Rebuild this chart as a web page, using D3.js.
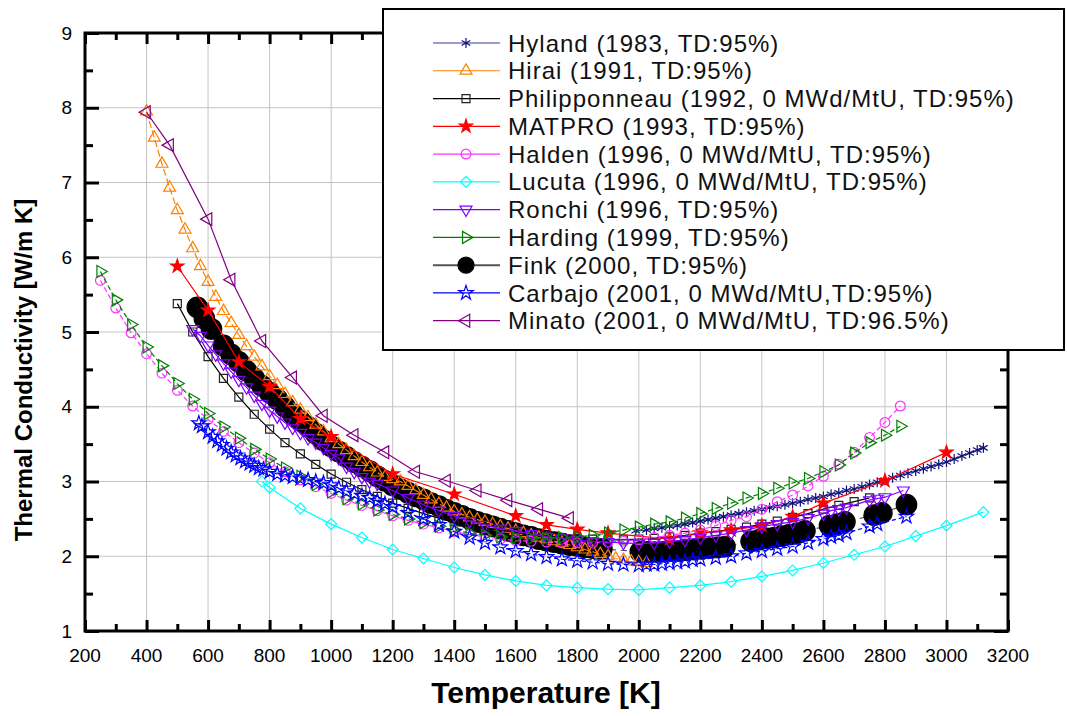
<!DOCTYPE html>
<html>
<head>
<meta charset="utf-8">
<script src="https://cdn.jsdelivr.net/npm/d3@7"></script>
<style>
  body { margin: 0; background: #fff; }
  text { font-family: "Liberation Sans", Arial, sans-serif; }
</style>
</head>
<body>
<div id="chart"></div>
<script>
// ---- data (temperature K, conductivity W/m K) ----
const xTicks = [200, 400, 600, 800, 1000, 1200, 1400, 1600, 1800, 2000, 2200, 2400, 2600, 2800, 3000, 3200];
const yTicks = [1, 2, 3, 4, 5, 6, 7, 8, 9];

const seriesNames = [
  "Hyland (1983, TD:95%)",
  "Hirai (1991, TD:95%)",
  "Philipponneau (1992, 0 MWd/MtU, TD:95%)",
  "MATPRO (1993, TD:95%)",
  "Halden (1996, 0 MWd/MtU, TD:95%)",
  "Lucuta (1996, 0 MWd/MtU, TD:95%)",
  "Ronchi (1996, TD:95%)",
  "Harding (1999, TD:95%)",
  "Fink (2000, TD:95%)",
  "Carbajo (2001, 0 MWd/MtU,TD:95%)",
  "Minato (2001, 0 MWd/MtU, TD:96.5%)"
];

const hyland = [[1990,2.34],[2025,2.35],[2050,2.37],[2075,2.38],[2100,2.4],[2125,2.41],[2150,2.43],[2175,2.45],
  [2200,2.47],[2225,2.49],[2250,2.51],[2275,2.53],[2300,2.55],[2325,2.57],[2350,2.59],[2375,2.61],[2400,2.63],
  [2425,2.65],[2450,2.67],[2475,2.69],[2500,2.71],[2525,2.73],[2550,2.76],[2575,2.78],[2600,2.8],[2625,2.83],
  [2650,2.85],[2675,2.88],[2700,2.9],[2725,2.93],[2750,2.96],[2775,2.99],[2800,3.02],[2825,3.05],[2850,3.08],
  [2875,3.11],[2900,3.14],[2925,3.17],[2950,3.2],[2975,3.23],[3000,3.26],[3025,3.3],[3050,3.34],[3075,3.38],
  [3100,3.42],[3120,3.45]];

const hirai = [[400,7.95],[425,7.6],[450,7.25],[475,6.93],[500,6.63],[525,6.37],[550,6.12],[575,5.88],[600,5.67],
  [625,5.47],[650,5.28],[675,5.12],[700,4.96],[725,4.81],[750,4.67],[775,4.54],[800,4.41],[825,4.29],[850,4.17],
  [875,4.06],[900,3.96],[925,3.86],[950,3.76],[975,3.67],[1000,3.58],[1025,3.5],[1050,3.42],[1075,3.34],[1100,3.26],
  [1125,3.19],[1150,3.12],[1175,3.06],[1200,3.03],[1225,3.0],[1250,2.94],[1275,2.88],[1300,2.82],[1325,2.76],
  [1350,2.7],[1375,2.65],[1400,2.6],[1425,2.56],[1450,2.52],[1475,2.49],[1500,2.46],[1525,2.43],[1550,2.4],
  [1575,2.37],[1600,2.34],[1625,2.31],[1650,2.28],[1675,2.25],[1700,2.23],[1725,2.2],[1750,2.18],[1775,2.15],
  [1800,2.12],[1825,2.09],[1850,2.06],[1875,2.03],[1900,2.0],[1925,1.97],[1950,1.95],[1975,1.93],[2000,1.92],[2025,1.91]];

const philipponneau = [[500,5.38],[550,5.0],[600,4.67],[650,4.38],[700,4.13],[750,3.9],[800,3.7],[850,3.52],
  [900,3.37],[950,3.23],[1000,3.1],[1050,2.99],[1100,2.89],[1150,2.8],[1200,2.71],[1250,2.64],[1300,2.57],
  [1350,2.51],[1400,2.46],[1450,2.42],[1500,2.38],[1550,2.35],[1600,2.32],[1650,2.29],[1700,2.27],[1750,2.25],
  [1800,2.24],[1850,2.23],[1900,2.22],[1950,2.22],[2000,2.23],[2050,2.24],[2100,2.26],[2150,2.28],[2200,2.31],
  [2250,2.33],[2300,2.36],[2350,2.39],[2400,2.43],[2450,2.47],[2500,2.52],[2550,2.57],[2600,2.63],[2650,2.68],
  [2700,2.73],[2750,2.78]];

const matpro = [[500,5.88],[600,5.29],[700,4.6],[800,4.27],[900,3.84],[1000,3.6],[1200,3.1],[1400,2.83],
  [1600,2.54],[1700,2.42],[1800,2.36],[1900,2.31],[2100,2.23],[2200,2.31],[2300,2.35],[2400,2.41],[2500,2.53],
  [2600,2.71],[2800,3.01],[3000,3.39]];

const halden = [[250,5.69],[300,5.32],[350,4.99],[400,4.71],[450,4.45],[500,4.22],[550,4.01],[600,3.83],
  [650,3.67],[700,3.52],[750,3.38],[800,3.25],[850,3.13],[900,3.02],[950,2.93],[1000,2.84],[1050,2.75],
  [1100,2.68],[1150,2.61],[1200,2.54],[1250,2.48],[1300,2.43],[1350,2.38],[1400,2.33],[1450,2.29],[1500,2.26],
  [1550,2.23],[1600,2.21],[1650,2.2],[1700,2.19],[1750,2.18],[1800,2.18],[1850,2.18],[1900,2.19],[1950,2.2],
  [2000,2.22],[2050,2.25],[2100,2.28],[2150,2.31],[2200,2.35],[2250,2.41],[2300,2.48],[2350,2.53],[2400,2.63],
  [2450,2.73],[2500,2.82],[2550,2.94],[2600,3.07],[2650,3.23],[2700,3.39],[2750,3.59],[2800,3.79],[2850,4.01]];

const lucuta = [[775,3.0],[800,2.92],[900,2.64],[1000,2.43],[1100,2.25],[1200,2.09],[1300,1.97],[1400,1.85],
  [1500,1.75],[1600,1.67],[1700,1.61],[1800,1.58],[1900,1.56],[2000,1.55],[2100,1.58],[2200,1.61],[2300,1.66],
  [2400,1.73],[2500,1.81],[2600,1.91],[2700,2.02],[2800,2.13],[2900,2.27],[3000,2.41],[3120,2.59]];

const ronchi = [[550,5.04],[575,4.95],[600,4.82],[625,4.7],[650,4.58],[675,4.47],[700,4.36],[725,4.26],
  [750,4.15],[775,4.04],[800,3.95],[825,3.87],[850,3.79],[875,3.72],[900,3.65],[925,3.58],[950,3.52],[975,3.45],
  [1000,3.37],[1025,3.31],[1050,3.2],[1075,3.13],[1100,3.06],[1125,3.0],[1150,2.97],[1200,2.88],[1250,2.78],
  [1300,2.69],[1350,2.61],[1400,2.54],[1450,2.47],[1500,2.42],[1550,2.37],[1600,2.34],[1650,2.3],[1700,2.26],
  [1750,2.24],[1800,2.22],[1850,2.2],[1900,2.19],[1950,2.18],[2000,2.17],[2050,2.18],[2100,2.2],[2150,2.22],
  [2200,2.25],[2250,2.28],[2300,2.31],[2350,2.35],[2400,2.4],[2450,2.43],[2500,2.46],[2550,2.51],[2600,2.57],
  [2625,2.61],[2650,2.63],[2675,2.65],[2750,2.75],[2775,2.77],[2800,2.79],[2860,2.88]];

const harding = [[250,5.81],[300,5.43],[350,5.1],[400,4.8],[450,4.55],[500,4.31],[550,4.1],[600,3.91],
  [650,3.73],[700,3.58],[750,3.43],[800,3.3],[850,3.18],[900,3.07],[950,2.96],[1000,2.86],[1050,2.77],
  [1100,2.7],[1150,2.62],[1200,2.56],[1250,2.5],[1300,2.45],[1350,2.4],[1400,2.35],[1450,2.31],[1500,2.28],
  [1550,2.26],[1600,2.25],[1650,2.24],[1700,2.24],[1750,2.25],[1800,2.26],[1850,2.28],[1900,2.31],[1950,2.35],
  [2000,2.39],[2050,2.43],[2100,2.46],[2150,2.51],[2200,2.57],[2250,2.64],[2300,2.71],[2350,2.78],[2400,2.84],
  [2450,2.91],[2500,2.98],[2550,3.04],[2600,3.13],[2650,3.22],[2700,3.38],[2750,3.52],[2800,3.62],[2850,3.74]];

const fink = [[565,5.33],[588,5.18],[611,5.04],[650,4.82],[675,4.7],[700,4.6],[725,4.48],[750,4.38],[775,4.28],
  [800,4.19],[825,4.1],[850,4.0],[875,3.9],[900,3.81],[925,3.73],[950,3.64],[975,3.55],[1000,3.47],[1025,3.4],
  [1050,3.33],[1075,3.26],[1100,3.2],[1125,3.14],[1150,3.07],[1175,3.01],[1200,2.95],[1225,2.9],[1250,2.85],
  [1275,2.8],[1300,2.76],[1325,2.71],[1350,2.67],[1375,2.62],[1400,2.58],[1425,2.54],[1450,2.5],[1475,2.46],
  [1500,2.43],[1525,2.4],[1550,2.37],[1575,2.34],[1600,2.31],[1625,2.28],[1650,2.26],[1675,2.23],[1700,2.21],
  [1725,2.19],[1750,2.17],[1775,2.15],[1800,2.14],[1825,2.12],[1850,2.11],[1880,2.1],
  [2005,2.06],[2030,2.06],[2055,2.06],[2080,2.06],[2105,2.07],[2130,2.07],[2155,2.08],[2180,2.09],[2205,2.1],
  [2230,2.11],[2255,2.12],[2280,2.13],
  [2365,2.2],[2390,2.22],[2415,2.24],[2440,2.25],[2465,2.27],[2490,2.29],[2515,2.31],[2540,2.34],
  [2620,2.41],[2645,2.43],[2670,2.46],
  [2765,2.55],[2790,2.58],
  [2870,2.69]];

const carbajo = [[570,3.78],[580,3.74],[600,3.66],[615,3.6],[630,3.54],[645,3.49],[660,3.44],[675,3.39],
  [690,3.35],[705,3.31],[720,3.27],[735,3.24],[750,3.21],[765,3.18],[780,3.16],[800,3.13],[825,3.1],[850,3.08],
  [875,3.06],[900,3.04],[925,3.02],[950,3.0],[975,2.98],[1000,2.95],[1025,2.91],[1050,2.87],[1075,2.84],
  [1100,2.81],[1125,2.78],[1150,2.74],[1175,2.7],[1200,2.66],[1250,2.58],[1300,2.5],[1350,2.42],[1400,2.33],
  [1450,2.25],[1500,2.18],[1550,2.12],[1600,2.07],[1650,2.03],[1700,1.99],[1750,1.96],[1800,1.94],[1850,1.92],
  [1900,1.9],[1950,1.89],[2000,1.88],[2025,1.89],[2050,1.89],[2075,1.9],[2100,1.91],[2125,1.92],[2150,1.93],
  [2175,1.95],[2200,1.96],[2250,1.98],[2300,2.0],[2350,2.04],[2400,2.07],[2450,2.1],[2500,2.13],[2550,2.18],
  [2600,2.23],[2625,2.26],[2650,2.28],[2675,2.31],[2750,2.4],[2775,2.43],[2870,2.53]];

const minato = [[400,7.94],[475,7.5],[600,6.51],[675,5.7],[775,4.88],[875,4.39],[975,3.88],[1075,3.62],
  [1175,3.39],[1275,3.13],[1375,3.01],[1475,2.88],[1575,2.75],[1675,2.63],[1775,2.51]];

// ---- styles ----
const styles = [
  { data: hyland,        color: "#10107a", line: "#3a3a9a", dash: null,  sym: d3.symbolAsterisk, size: 70,  fill: "none", rot: 0 },
  { data: hirai,         color: "#ff8000", line: "#ff8000", dash: "7,3", sym: d3.symbolTriangle, size: 62,  fill: "none", rot: 0 },
  { data: philipponneau, color: "#222222", line: "#000000", dash: null,  sym: d3.symbolSquare,   size: 64,  fill: "none", rot: 0 },
  { data: matpro,        color: "#ff0000", line: "#ff0000", dash: null,  sym: d3.symbolStar,     size: 55,  fill: "#ff0000", rot: 0 },
  { data: halden,        color: "#ff33ff", line: "#ff33ff", dash: "5,3", sym: d3.symbolCircle,   size: 75,  fill: "none", rot: 0 },
  { data: lucuta,        color: "#00ffff", line: "#00ffff", dash: null,  sym: d3.symbolSquare,   size: 60,  fill: "none", rot: 45 },
  { data: ronchi,        color: "#8000ff", line: "#8000ff", dash: null,  sym: d3.symbolTriangle, size: 62,  fill: "none", rot: 180 },
  { data: harding,       color: "#008000", line: "#008000", dash: "5,3", sym: d3.symbolTriangle, size: 62,  fill: "none", rot: 90 },
  { data: fink,          color: "#000000", line: "#555555", dash: "6,5", sym: d3.symbolCircle,   size: 330, fill: "#000000", rot: 0 },
  { data: carbajo,       color: "#0000ff", line: "#0000ff", dash: "4,3", sym: d3.symbolStar,     size: 65,  fill: "none", rot: 0 },
  { data: minato,        color: "#800080", line: "#800080", dash: null,  sym: d3.symbolTriangle, size: 72,  fill: "none", rot: -90 }
];
const drawOrder = [8, 0, 1, 2, 3, 4, 5, 6, 7, 9, 10];

const W = 1067, H = 716;
const svg = d3.select("#chart").append("svg").attr("width", W).attr("height", H);

const x = d3.scaleLinear().domain([200, 3200]).range([85, 1008]);
const y = d3.scaleLinear().domain([1, 9]).range([631, 33]);

// grid
svg.append("g").selectAll("line").data(xTicks.slice(1, -1)).enter().append("line")
  .attr("x1", d => x(d)).attr("x2", d => x(d)).attr("y1", y(1)).attr("y2", y(9))
  .attr("stroke", "#c4c4c4").attr("stroke-width", 1);
svg.append("g").selectAll("line").data(yTicks.slice(1, -1)).enter().append("line")
  .attr("y1", d => y(d)).attr("y2", d => y(d)).attr("x1", x(200)).attr("x2", x(3200))
  .attr("stroke", "#c4c4c4").attr("stroke-width", 1);

// ticks
const xMinor = d3.range(300, 3200, 200);
const yMinor = d3.range(1.5, 9, 1);
function tickAxis(axis, values, size) {
  const g = svg.append("g");
  g.call(axis.tickValues(values).tickSize(size).tickFormat(""));
  g.select(".domain").remove();
  g.selectAll(".tick line").attr("stroke", "#000").attr("stroke-width", 3);
  return g;
}
tickAxis(d3.axisBottom(x), xTicks, -11).attr("transform", `translate(0,${y(1)})`);
tickAxis(d3.axisBottom(x), xMinor, -7).attr("transform", `translate(0,${y(1)})`);
tickAxis(d3.axisTop(x), xTicks, -11).attr("transform", `translate(0,${y(9)})`);
tickAxis(d3.axisTop(x), xMinor, -7).attr("transform", `translate(0,${y(9)})`);
tickAxis(d3.axisLeft(y), yTicks, -14).attr("transform", `translate(${x(200)},0)`);
tickAxis(d3.axisLeft(y), yMinor, -8).attr("transform", `translate(${x(200)},0)`);
tickAxis(d3.axisRight(y), yTicks, -14).attr("transform", `translate(${x(3200)},0)`);
tickAxis(d3.axisRight(y), yMinor, -8).attr("transform", `translate(${x(3200)},0)`);

// frame
svg.append("rect").attr("x", x(200)).attr("y", y(9))
  .attr("width", x(3200) - x(200)).attr("height", y(1) - y(9))
  .attr("fill", "none").attr("stroke", "#000").attr("stroke-width", 3);

// tick labels
svg.append("g").selectAll("text").data(xTicks).enter().append("text")
  .attr("x", d => x(d)).attr("y", 662).attr("text-anchor", "middle")
  .attr("font-size", 19).text(d => d);
svg.append("g").selectAll("text").data(yTicks).enter().append("text")
  .attr("x", 72).attr("y", d => y(d)).attr("dy", "0.35em").attr("text-anchor", "end")
  .attr("font-size", 19).text(d => d);

// axis titles
svg.append("text").attr("x", 546).attr("y", 703).attr("text-anchor", "middle")
  .attr("font-size", 30).attr("font-weight", "bold").text("Temperature [K]");
svg.append("text").attr("transform", "translate(32,370) rotate(-90)").attr("text-anchor", "middle")
  .attr("font-size", 24).attr("font-weight", "bold").text("Thermal Conductivity [W/m K]");

// series
const line = d3.line().x(d => x(d[0])).y(d => y(d[1]));
function marker(g, s, px, py) {
  g.append("path")
    .attr("d", d3.symbol().type(s.sym).size(s.size)())
    .attr("transform", `translate(${px},${py}) rotate(${s.rot})`)
    .attr("fill", s.fill).attr("stroke", s.color).attr("stroke-width", 1.2);
}
drawOrder.forEach(i => {
  const s = styles[i];
  const g = svg.append("g");
  g.append("path").datum(s.data).attr("d", line)
    .attr("fill", "none").attr("stroke", s.line).attr("stroke-width", 1.2)
    .attr("stroke-dasharray", s.dash);
  s.data.forEach(d => marker(g, s, x(d[0]), y(d[1])));
});

// legend
const lg = svg.append("g");
lg.append("rect").attr("x", 383).attr("y", 9).attr("width", 681).attr("height", 341)
  .attr("fill", "#fff").attr("stroke", "#000").attr("stroke-width", 2);
seriesNames.forEach((name, i) => {
  const s = styles[i];
  const ry = 43 + i * 27.77;
  lg.append("line").attr("x1", 433).attr("x2", 500).attr("y1", ry).attr("y2", ry)
    .attr("stroke", s.line).attr("stroke-width", i === 8 ? 2 : 1.2);
  marker(lg, i === 8 ? Object.assign({}, s, { size: 200 }) : s, 466, ry);
  lg.append("text").attr("x", 508).attr("y", ry).attr("dy", "0.36em")
    .attr("font-size", 24).attr("letter-spacing", 1).attr("fill", "#111").text(name);
});
</script>
</body>
</html>
